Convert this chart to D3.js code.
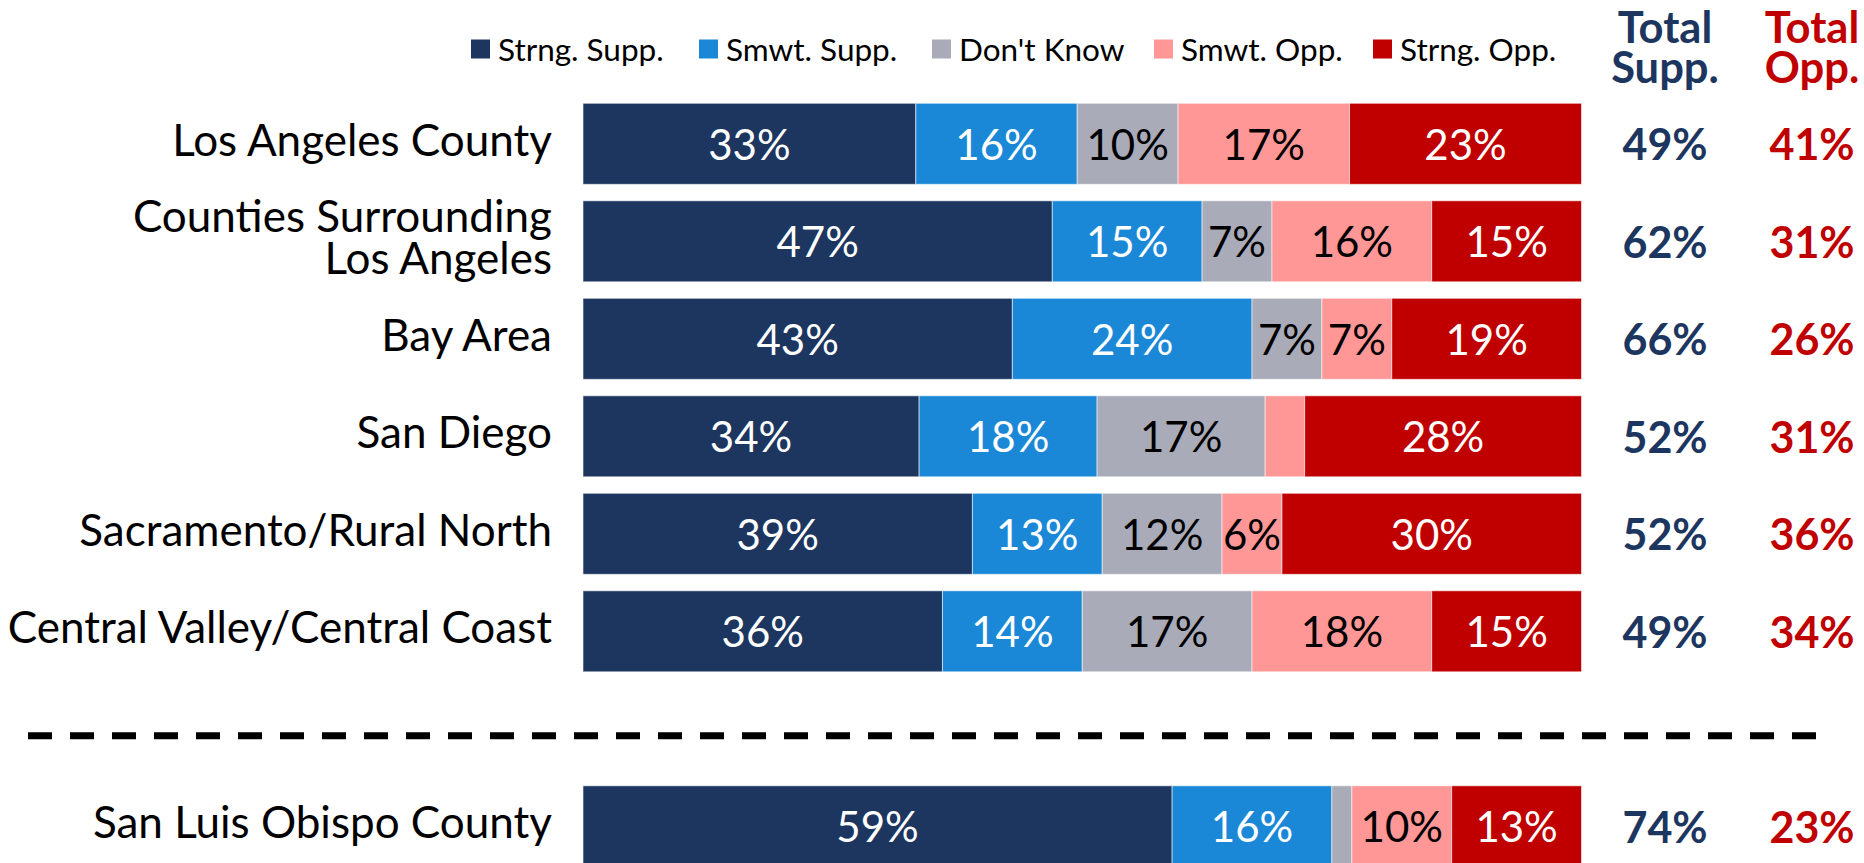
<!DOCTYPE html>
<html>
<head>
<meta charset="utf-8">
<script src="https://cdn.jsdelivr.net/npm/d3@7"></script>
<style>
  html, body { margin: 0; padding: 0; background: #fff; }
  svg { display: block; font-family: Lato, "Open Sans", sans-serif; }
</style>
</head>
<body>
<svg id="chart" width="1864" height="863"></svg>
<script>
// ---- data ----
const regions = [
  "Los Angeles County",
  "Counties Surrounding\nLos Angeles",
  "Bay Area",
  "San Diego",
  "Sacramento/Rural North",
  "Central Valley/Central Coast",
  "San Luis Obispo County"
];
const seriesNames = ["Strng. Supp.", "Smwt. Supp.", "Don't Know", "Smwt. Opp.", "Strng. Opp."];
const strngSupp = [33, 47, 43, 34, 39, 36, 59];
const smwtSupp  = [16, 15, 24, 18, 13, 14, 16];
const dontKnow  = [10,  7,  7, 17, 12, 17,  2];
const smwtOpp   = [17, 16,  7,  4,  6, 18, 10];
const strngOpp  = [23, 15, 19, 28, 30, 15, 13];
const totalSupp = [49, 62, 66, 52, 52, 49, 74];
const totalOpp  = [41, 31, 26, 31, 36, 34, 23];
const headerSupp = ["Total", "Supp."];
const headerOpp  = ["Total", "Opp."];

// ---- styles / layout ----
const colors = ["#1D3660", "#1A88D7", "#A9ABB8", "#FF9797", "#C00000"];
const textColors = ["#fff", "#fff", "#000", "#000", "#fff"];
const suppColor = "#1D3660", oppColor = "#C00000";
const legendX = [471, 699, 932, 1154, 1373];

const svg = d3.select("#chart");
const keys = seriesNames;
const seriesArrays = [strngSupp, smwtSupp, dontKnow, smwtOpp, strngOpp];
const SEP = "__sep__";
const rows = regions.map((r, i) => {
  const o = { region: r };
  keys.forEach((k, j) => o[k] = seriesArrays[j][i]);
  o.totalSupp = totalSupp[i];
  o.totalOpp = totalOpp[i];
  return o;
});

const slotDomain = regions.slice(0, 6).concat([SEP], regions.slice(6));
const y = d3.scaleBand().domain(slotDomain)
  .range([103.3, 866.8]).paddingInner(0.1692).paddingOuter(0);
const x = d3.scaleLinear().domain([0, 1]).range([583, 1581.5]);

const stack = d3.stack().keys(keys).offset(d3.stackOffsetExpand);
const stacked = stack(rows);

// bars
const g = svg.append("g");
stacked.forEach((s, si) => {
  const grp = g.append("g");
  grp.selectAll("rect").data(s).join("rect")
    .attr("x", d => x(d[0]))
    .attr("y", d => y(d.data.region))
    .attr("width", d => x(d[1]) - x(d[0]))
    .attr("height", y.bandwidth())
    .attr("fill", colors[si])
    .attr("stroke", "rgba(255,255,255,0.55)")
    .attr("stroke-width", 1);
  grp.selectAll("text").data(s.filter(d => d.data[s.key] >= 5)).join("text")
    .attr("x", d => (x(d[0]) + x(d[1])) / 2)
    .attr("y", d => y(d.data.region) + y.bandwidth() / 2)
    .attr("text-anchor", "middle")
    .attr("dominant-baseline", "central")
    .attr("fill", textColors[si])
    .attr("font-size", 42)
    .text(d => d.data[s.key] + "%");
});

// row labels
const lineH = 42;
const labelX = 552;
svg.append("g").selectAll("text").data(rows).join("text")
  .attr("x", labelX)
  .attr("y", d => y(d.region) + y.bandwidth() / 2 - 5)
  .attr("text-anchor", "end")
  .attr("font-size", 44)
  .attr("fill", "#000")
  .each(function(d) {
    const lines = d.region.split("\n");
    const t = d3.select(this);
    lines.forEach((ln, i) => {
      t.append("tspan")
        .attr("x", labelX)
        .attr("dy", i === 0 ? (-(lines.length - 1) / 2 * lineH) + "px" : lineH + "px")
        .attr("dominant-baseline", "central")
        .text(ln);
    });
  });

// totals
const suppX = 1665, oppX = 1812;
const tg = svg.append("g").attr("font-weight", 700).attr("font-size", 43).attr("text-anchor", "middle");
tg.selectAll("text.s").data(rows).join("text").attr("class", "s")
  .attr("x", suppX).attr("y", d => y(d.region) + y.bandwidth() / 2)
  .attr("dominant-baseline", "central").attr("fill", suppColor)
  .text(d => d.totalSupp + "%");
tg.selectAll("text.o").data(rows).join("text").attr("class", "o")
  .attr("x", oppX).attr("y", d => y(d.region) + y.bandwidth() / 2)
  .attr("dominant-baseline", "central").attr("fill", oppColor)
  .text(d => d.totalOpp + "%");

// headers
const hg = svg.append("g").attr("font-weight", 700).attr("font-size", 43.5).attr("text-anchor", "middle");
headerSupp.forEach((h, i) => hg.append("text").attr("x", suppX).attr("y", 43 + i * 40).attr("fill", suppColor).text(h));
headerOpp.forEach((h, i) => hg.append("text").attr("x", oppX).attr("y", 43 + i * 40).attr("fill", oppColor).text(h));

// legend
const lg = svg.append("g");
keys.forEach((k, i) => {
  const lx = legendX[i];
  lg.append("rect").attr("x", lx).attr("y", 39.5).attr("width", 19).attr("height", 19).attr("fill", colors[i]);
  lg.append("text").attr("x", lx + 27).attr("y", 49)
    .attr("dominant-baseline", "central").attr("font-size", 31.5).attr("fill", "#000").text(k);
});

// dashed separator
const sepY = y(SEP) + y.bandwidth() / 2 + 7;
svg.append("line")
  .attr("x1", 28).attr("x2", 1816)
  .attr("y1", sepY).attr("y2", sepY)
  .attr("stroke", "#000").attr("stroke-width", 7)
  .attr("stroke-dasharray", "24,18");
</script>
</body>
</html>
